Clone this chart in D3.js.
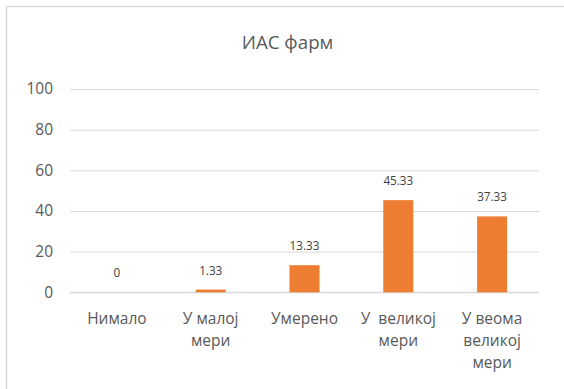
<!DOCTYPE html>
<html>
<head>
<meta charset="utf-8">
<script src="https://cdn.jsdelivr.net/npm/d3@7"></script>
<style>
  html, body { margin: 0; padding: 0; background: #fff; }
  svg { display: block; }
  svg text { font-family: "Open Sans", "Noto Sans", sans-serif; }
</style>
</head>
<body>
<svg id="chart" width="564" height="389"></svg>
<script>
// Chart data
const title = "ИАС фарм";
const categories = ["Нимало", "У малој мери", "Умерено", "У  великој мери", "У веома великој мери"];
const categoryLines = [["Нимало"], ["У малој", "мери"], ["Умерено"], ["У  великој", "мери"], ["У веома", "великој", "мери"]];
const values = [0, 1.33, 13.33, 45.33, 37.33];
const yTicks = [0, 20, 40, 60, 80, 100];

const FONT = "'Open Sans', 'Noto Sans', sans-serif";
const svg = d3.select("#chart");
const W = 564, H = 389;
const margin = { left: 70, right: 25, top: 89, bottom: 96.7 };

// Chart area frame (top and left edges)
svg.append("path")
  .attr("d", `M6.5,${H} L6.5,6.5 L${W},6.5`)
  .attr("fill", "none")
  .attr("stroke", "#d9d9d9")
  .attr("stroke-width", 1.5);

const x = d3.scaleBand()
  .domain(categories)
  .range([margin.left, W - margin.right])
  .paddingInner(0.68)
  .paddingOuter(0.34);

const y = d3.scaleLinear()
  .domain([0, 100])
  .range([H - margin.bottom, margin.top]);

// Gridlines and y labels
const yAxis = d3.axisLeft(y).tickValues(yTicks)
  .tickSize(-(W - margin.right - margin.left))
  .tickPadding(17)
  .tickFormat(d3.format("d"));

const gy = svg.append("g")
  .attr("transform", `translate(${margin.left},0)`)
  .call(yAxis)
  .attr("font-family", FONT)
  .attr("font-size", 15.5);
gy.select(".domain").remove();
gy.selectAll(".tick line").attr("stroke", "#d9d9d9").attr("stroke-width", 1);
gy.selectAll(".tick text").attr("fill", "#595959");

// Baseline
svg.append("line")
  .attr("x1", margin.left).attr("x2", W - margin.right)
  .attr("y1", y(0)).attr("y2", y(0))
  .attr("stroke", "#d9d9d9").attr("stroke-width", 1.2);

// Bars
svg.append("g").selectAll("rect")
  .data(values)
  .join("rect")
  .attr("x", (d, i) => x(categories[i]))
  .attr("width", x.bandwidth())
  .attr("y", d => y(d))
  .attr("height", d => y(0) - y(d))
  .attr("fill", "#ed7d31");

// Value labels
svg.append("g").selectAll("text")
  .data(values)
  .join("text")
  .attr("x", (d, i) => x(categories[i]) + x.bandwidth() / 2)
  .attr("y", d => y(d) - 15)
  .attr("text-anchor", "middle")
  .attr("fill", "#404040")
  .attr("font-size", "11.7px")
  .text(d => d3.format("")(d));

// Category labels
const gx = svg.append("g");
categoryLines.forEach((lines, i) => {
  const cx = x(categories[i]) + x.bandwidth() / 2;
  const t = gx.append("text")
    .attr("text-anchor", "middle")
    .attr("fill", "#595959")
    .attr("font-size", "15.5px")
    .style("white-space", "pre");
  lines.forEach((ln, j) => {
    t.append("tspan")
      .attr("x", cx)
      .attr("y", 324 + j * 22)
      .text(ln);
  });
});

// Title
svg.append("text")
  .attr("x", 287.5)
  .attr("y", 48.5)
  .attr("text-anchor", "middle")
  .attr("fill", "#595959")
  .attr("font-size", "18.7px")
  .text(title);
</script>
</body>
</html>
